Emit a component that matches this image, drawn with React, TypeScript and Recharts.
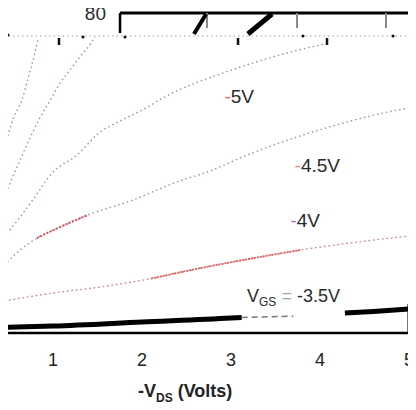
import React from 'react';
import { ComposedChart, Line, XAxis, YAxis, ReferenceLine, ReferenceDot } from 'recharts';

const xTicks = [1, 2, 3, 4, 5];

// VGS = -3.5V, thick black trace (has a gap near 4V)
const vds35 = [0.404, 1, 2, 3, 3.12, 3.7, 4.28, 4.6, 5];
const id35 = [1.4, 1.75, 2.75, 3.75, 3.9, 4.2, 5, 5.4, 6];

// VGS = -4V
const vds40 = [0.404, 1, 1.53, 2.1, 2.65, 3.2, 3.78, 4.34, 5];
const id40 = [7.8, 10, 11.5, 13.6, 16.2, 18.5, 20.75, 22.5, 24.25];

// VGS = -4.5V
const vds45 = [0.45, 0.63, 0.82, 1.08, 1.39, 1.87, 2.39, 2.73, 3.24, 3.81, 4.39, 4.71, 5];
const id45 = [17, 20.75, 23.75, 26.5, 29.5, 33, 37.75, 40.25, 45, 49.5, 53.25, 55, 56.25];

// VGS = -5V
const vds50 = [0.45, 0.63, 0.78, 0.99, 1.27, 1.53, 1.73, 1.98, 2.32, 2.6, 2.91, 3.47, 4.0, 4.11];
const id50 = [24, 29, 33.5, 40, 44.5, 50.25, 52.75, 55.5, 59.75, 62.5, 65, 69, 72, 72.5];

// steeper traces near the top left
const vds55 = [0.45, 0.63, 0.84, 0.97, 1.08, 1.19, 1.3, 1.42, 1.47];
const id55 = [34, 43.25, 53.25, 58.25, 62.5, 65.75, 69, 72.25, 74];
const vds60 = [0.45, 0.56, 0.65, 0.72, 0.79, 0.83];
const id60 = [46, 54, 58.25, 63.75, 69.5, 73.25];

// faint dotted row along the top
const vdsTop = [0.45, 5.079];
const idTop = [74.25, 74.25];
const dotV = [0.494, 1.337, 1.809, 3.809, 4.821];
const dotI = [74.5, 74, 74, 74.25, 74.25];

// right edge of the lower frame and the red mark beside it
const frameV = [5.0, 5.0];
const frameI = [0, 7.25];
const redV = [5.006, 5.006];
const redI = [26.5, 30];

const toRows = (v: number[], i: number[]) => v.map((x, k) => ({ v: x, i: i[k] }));

const c35 = toRows(vds35, id35);
const c35Left = c35.filter((d) => d.v <= 3.12);
const c35Mid = c35.filter((d) => d.v >= 3.12 && d.v <= 3.7);
const c35Right = c35.filter((d) => d.v >= 4.28);
const c40 = toRows(vds40, id40);
const c40Red = c40.filter((d) => d.v >= 2.1 && d.v <= 3.78);
const c45 = toRows(vds45, id45);
const c45Red = c45.filter((d) => d.v >= 0.82 && d.v <= 1.39);
const c50 = toRows(vds50, id50);
const c55 = toRows(vds55, id55);
const c60 = toRows(vds60, id60);
const topRow = toRows(vdsTop, idTop);
const topDots = toRows(dotV, dotI);
const frame = toRows(frameV, frameI);
const redMark = toRows(redV, redI);

const faint = '#8797b8';
const font = 'Liberation Sans, Arial, sans-serif';

const makeLabel = (parts: React.ReactNode, anchor: string = 'end', size = 19) => (props: any) => {
  const { viewBox } = props;
  return (
    <text x={viewBox.x} y={viewBox.y} textAnchor={anchor} fontSize={size} fill="#2a2a2a" fontFamily={font}>
      {parts}
    </text>
  );
};

const minus = (c: string) => <tspan fill={c}>-</tspan>;

const annotations = [
  { v: 3.259, i: 57.5, content: makeLabel(<>{minus('#d66')}5V</>) },
  { v: 4.225, i: 40.25, content: makeLabel(<>{minus('#d88')}4.5V</>) },
  { v: 4.0, i: 26.5, content: makeLabel(<>{minus('#b6c')}4V</>) },
  {
    v: 3.18,
    i: 7.75,
    content: makeLabel(
      <>
        V<tspan fontSize={12} dy={4}>GS</tspan>
        <tspan dy={-4} fill="#9ab"> = </tspan>-3.5V
      </>,
      'start',
      18
    ),
  },
  { v: 1.595, i: 78.25, content: makeLabel(<>80</>) },
];

const AxisTitle = (props: any) => {
  const { viewBox } = props;
  return (
    <text x={viewBox.x + 138} y={viewBox.y + 64} fontSize={18} fontWeight="bold" fill="#222" fontFamily={font}>
      -V<tspan fontSize={12} dy={5}>DS</tspan>
      <tspan dy={-5}> (Volts)</tspan>
    </text>
  );
};

const plainLine = (data: any[], key: string, stroke: string, width: number, dash?: string, type: any = 'monotone') => (
  <Line
    key={key}
    data={data}
    dataKey="i"
    type={type}
    stroke={stroke}
    strokeWidth={width}
    strokeDasharray={dash}
    dot={false}
    activeDot={false}
    isAnimationActive={false}
  />
);

const seg = (x1: number, y1: number, x2: number, y2: number, stroke: string, width: number, key: string) => (
  <ReferenceLine
    key={key}
    segment={[{ x: x1, y: y1 }, { x: x2, y: y2 }]}
    stroke={stroke}
    strokeWidth={width}
    ifOverflow="visible"
  />
);

export default function App() {
  return (
    <div style={{ margin: -8, width: 416, height: 410, background: '#fff' }}>
      <ComposedChart width={416} height={410} margin={{ top: 13, right: 0, left: 0, bottom: 47 }}>
        <XAxis
          type="number"
          dataKey="v"
          domain={[0.404, 5.079]}
          ticks={xTicks}
          axisLine={{ stroke: '#000', strokeWidth: 2.5 }}
          tickLine={false}
          tickSize={0}
          tickMargin={20}
          height={30}
          tick={{ fill: '#222', fontSize: 18, fontFamily: font }}
          label={AxisTitle}
        />
        <YAxis type="number" domain={[0, 80]} hide width={0} />

        {plainLine(topRow, 'top', '#b8c0d0', 1.4, '1.5 3')}
        {plainLine(c60, 'c60', faint, 1.4, '1.5 3')}
        {plainLine(c55, 'c55', faint, 1.4, '1.5 3')}
        {plainLine(c50, 'c50', faint, 1.4, '1.5 3')}
        {plainLine(c45, 'c45', faint, 1.4, '1.5 3')}
        {plainLine(c45Red, 'c45r', '#e05050', 2, '2 1.5')}
        {plainLine(c40, 'c40', '#c99a9a', 1.4, '2 2.5')}
        {plainLine(c40Red, 'c40r', '#e06060', 1.8, '2 1')}
        {plainLine(c35Left, 'c35l', '#000', 5)}
        {plainLine(c35Mid, 'c35m', '#777', 1.5, '6 4')}
        {plainLine(c35Right, 'c35r', '#000', 5)}
        {plainLine(frame, 'frame', '#000', 3, undefined, 'linear')}
        {plainLine(redMark, 'redmark', '#f06060', 3, undefined, 'linear')}

        {/* upper frame pieces */}
        {seg(1.753, 75, 1.753, 80, '#000', 2.5, 'corner')}
        {seg(1.753, 80, 5.079, 80, '#000', 3, 'topEdge')}
        {[2.73, 3.742, 4.742].map((v) => seg(v, 80, v, 76.25, '#888', 2, 't' + v))}
        {seg(2.584, 74.75, 2.72, 79.75, '#000', 4, 'diagA')}
        {seg(3.19, 74.75, 3.461, 79.75, '#000', 5, 'diagB')}
        {[1.067, 3.079, 4.079].map((v) => seg(v, 72, v, 73.75, '#111', 2.5, 'm' + v))}

        {topDots.map((d, k) => (
          <ReferenceDot key={'d' + k} x={d.v} y={d.i} r={1.5} fill="#111" stroke="none" ifOverflow="visible" />
        ))}
        {annotations.map((a, k) => (
          <ReferenceDot key={'a' + k} x={a.v} y={a.i} r={0} fill="none" stroke="none" ifOverflow="visible" label={a.content} />
        ))}
      </ComposedChart>
    </div>
  );
}
